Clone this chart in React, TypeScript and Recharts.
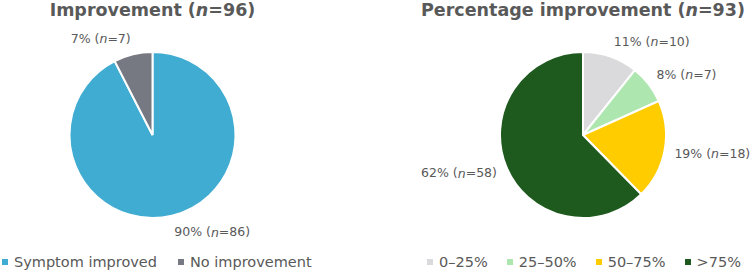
import React from 'react'
import { PieChart, Pie, Cell, Legend } from 'recharts'

const improvementNames = ['Symptom improved', 'No improvement']
const improvementCounts = [86, 7]
const improvementColors = ['#41acd1', '#767981']
const improvementTotal = 96

const percentNames = ['0–25%', '25–50%', '50–75%', '>75%']
const percentCounts = [10, 7, 18, 58]
const percentColors = ['#dadadc', '#aee6b0', '#ffcc00', '#1e5a1e']
const percentTotal = 93

const font = '"DejaVu Sans", Verdana, sans-serif'
const textColor = '#595959'
const RAD = Math.PI / 180

const makeLabel = (total: number) => (props: any) => {
  const { cx, cy, midAngle, outerRadius, value } = props
  const cos = Math.cos(-midAngle * RAD)
  const sin = Math.sin(-midAngle * RAD)
  const r = outerRadius + 10
  const x = cx + r * cos
  const y = cy + r * sin + sin * 6.5
  const pct = Math.round((value / total) * 100)
  return (
    <text x={x} y={y} textAnchor={cos >= 0 ? 'start' : 'end'} dominantBaseline="central" fontFamily={font} fontSize={12.5} fill={textColor}>
      {pct}% (<tspan fontStyle="italic">n</tspan>={value})
    </text>
  )
}

const LegendRow = ({ payload, gap, order }: any) => {
  const items = [...(payload || [])].sort((a: any, b: any) => order.indexOf(a.value) - order.indexOf(b.value))
  return (
    <div style={{ display: 'flex', alignItems: 'center', gap, fontFamily: font, fontSize: 14.5, color: textColor, whiteSpace: 'nowrap' }}>
      {items.map((p: any) => (
        <span key={p.value} style={{ display: 'flex', alignItems: 'center' }}>
          <span style={{ display: 'inline-block', width: 6, height: 6, background: p.color, marginRight: 6 }} />
          {p.value}
        </span>
      ))}
    </div>
  )
}

type PanelProps = {
  title: string
  n: number
  names: string[]
  counts: number[]
  colors: string[]
  total: number
  cx: number
  legendLeft: number
  legendGap: number
}

const Panel: React.FC<PanelProps> = ({ title, n, names, counts, colors, total, cx, legendLeft, legendGap }) => {
  const data = names.map((name, i) => ({ name, count: counts[i], fill: colors[i] }))
  return (
    <div style={{ position: 'relative', width: 375, height: 273 }}>
      <div
        style={{
          position: 'absolute',
          left: cx - 200,
          width: 400,
          top: 0,
          textAlign: 'center',
          fontFamily: font,
          fontWeight: 'bold',
          fontSize: 17.5,
          lineHeight: '20px',
          color: textColor,
          zIndex: 1,
        }}
      >
        {title} (<i>n</i>={n})
      </div>
      <PieChart width={375} height={273} margin={{ top: 0, right: 0, bottom: 0, left: 0 }}>
        <Pie
          data={data}
          dataKey="count"
          nameKey="name"
          cx={cx}
          cy={135}
          outerRadius={83}
          startAngle={90}
          endAngle={-270}
          stroke="#ffffff"
          strokeWidth={2}
          label={makeLabel(total)}
          labelLine={false}
          isAnimationActive={false}
        >
          {data.map((d, i) => (
            <Cell key={i} fill={d.fill} />
          ))}
        </Pie>
        <Legend
          content={(p: any) => <LegendRow payload={p.payload} gap={legendGap} order={names} />}
          wrapperStyle={{ left: legendLeft, top: 254, width: 'auto' }}
        />
      </PieChart>
    </div>
  )
}

export default function App() {
  return (
    <div style={{ position: 'absolute', left: 0, top: 0, width: 751, height: 273, background: '#fff', display: 'flex' }}>
      <div style={{ width: 376 }}>
        <Panel
          title="Improvement"
          n={improvementTotal}
          names={improvementNames}
          counts={improvementCounts}
          colors={improvementColors}
          total={improvementTotal}
          cx={152.5}
          legendLeft={2}
          legendGap={21}
        />
      </div>
      <div style={{ width: 375 }}>
        <Panel
          title="Percentage improvement"
          n={percentTotal}
          names={percentNames}
          counts={percentCounts}
          colors={percentColors}
          total={percentTotal}
          cx={207}
          legendLeft={51}
          legendGap={19}
        />
      </div>
    </div>
  )
}
